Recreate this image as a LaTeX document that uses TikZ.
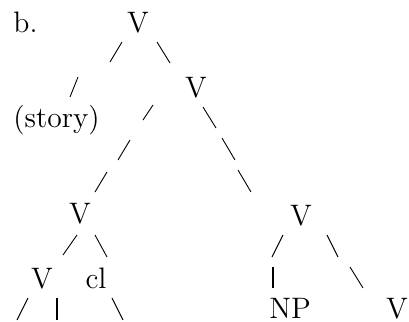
\documentclass[tikz,border=0pt]{standalone}
\usetikzlibrary{positioning}
\tikzset{
lbl/.style={
  anchor=base,
  inner sep=0pt,
  font=\fontsize{14.8}{17}\selectfont
  },
sl/.style={line width=0.45pt},
bar/.style={line width=1.2pt}
}

\begin{document}
\begin{tikzpicture}[x=0.5pt,y=-0.5pt]
    \useasboundingbox (0,0) rectangle (409,322);
    \node[lbl,anchor=base west] (lab) at (13,32) {b.};
    \node[lbl] (vtop) at (138,32) {V};
    \node[lbl] (vii) at (196,97) {V};
    \node[lbl,anchor=base west] (story) at (13,127) {(story)};
    \node[lbl] (vl) at (80,223) {V};
    \node[lbl] (vll) at (42,288) {V};
    \node[lbl] (cl) at (96,288) {cl};
    \node[lbl] (vr) at (301,225) {V};
    \node[lbl] (np) at (290,319) {NP};
    \node[lbl] (vrr) at (397,319) {V};
    % the slashes
    \foreach \a/\b/\c/\d in {110/62/122/42, 157/42/170/63, 70/97/78/77,
        143/120/153/105, 203/107/216/128, 222/138/235/160, 238/170/251/192,
        118/160/130/140, 95/192/107/172, 63/255/77/235, 95/235/107/257,
        17/320/28/298, 112/298/123/320, 272/257/283/235, 327/235/338/257,
        350/267/363/288}
      \draw[sl] (\a,\b) -- (\c,\d);
    \draw[bar] (57,298) -- (57,320);
    \draw[bar] (273,267) -- (273,288);
\end{tikzpicture}
\end{document}
